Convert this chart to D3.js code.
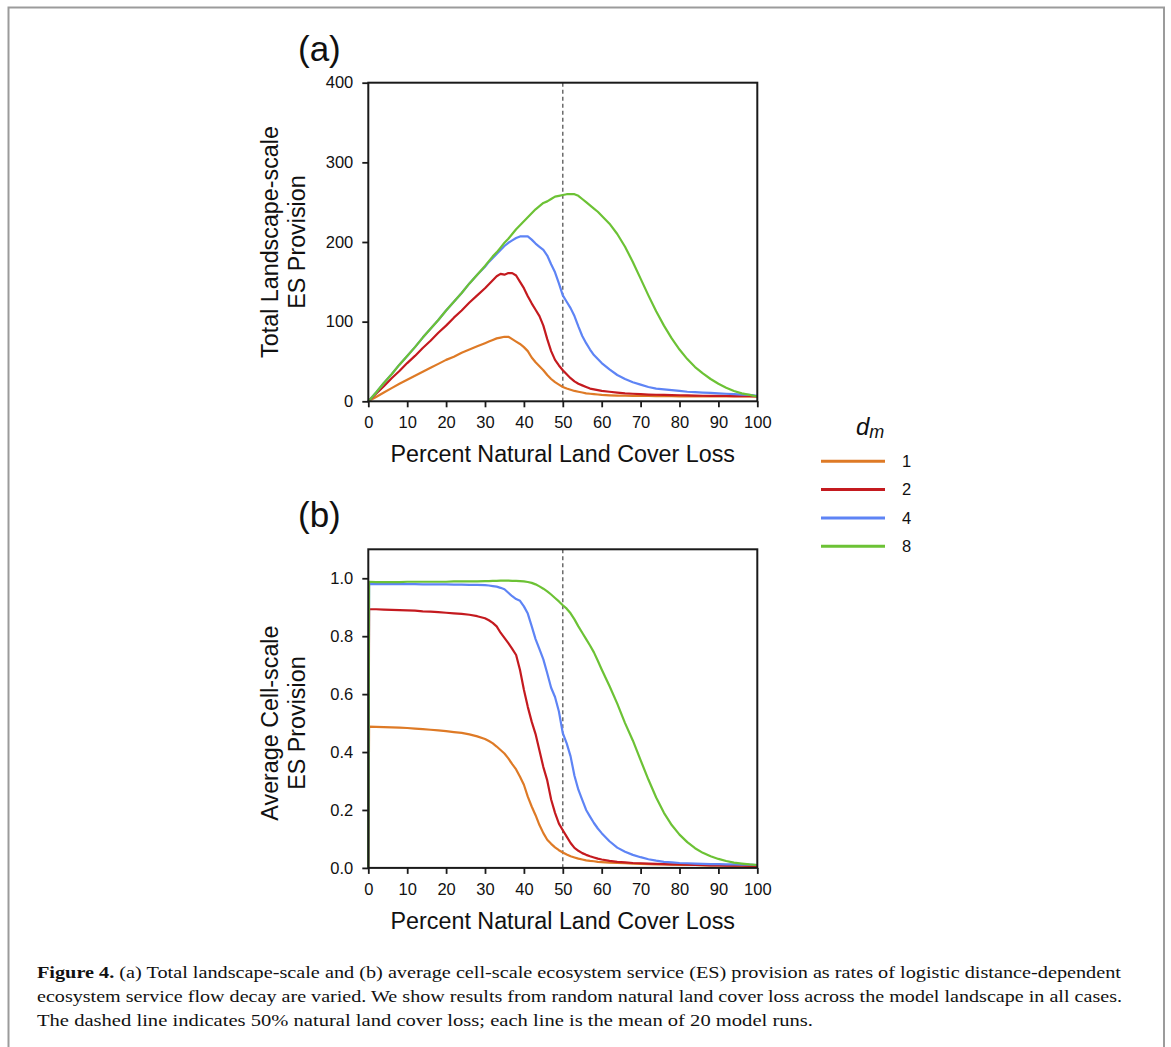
<!DOCTYPE html>
<html>
<head>
<meta charset="utf-8">
<script src="https://cdn.jsdelivr.net/npm/d3@7"></script>
<style>
  body { margin: 0; background: #fff; }
  svg { display: block; }
</style>
</head>
<body>
<div id="chart"></div>
<script>
// percent natural land cover loss (x grid shared by every series)
const LOSS = [0, 0.2,
  2, 4, 6, 8, 10, 12, 14, 16, 18, 20, 22, 24, 26, 28,
  30, 31, 32, 33, 34, 35, 36, 37, 38, 39, 40, 41, 42, 43, 44, 45, 46, 47, 48, 49, 50,
  51, 52, 53, 54, 55, 56, 57, 58, 59, 60,
  62, 64, 66, 68, 70, 72, 74, 76, 78, 80, 82, 84, 86, 88, 90, 92, 94, 96, 98, 100];

// (a) total landscape-scale ES provision
const TOTAL_DM1 = [0, 0.55,
  5.5, 11, 16.5, 22, 27, 32, 37, 42, 47, 52, 56, 61, 65, 69,
  73, 75, 77, 79, 80, 81, 81, 78, 75, 72, 68, 63, 55, 49, 44, 39, 33, 28, 24, 21, 18,
  16, 14.5, 13, 12, 11, 10, 9.5, 9, 8.5, 8,
  7.5, 7.2, 7, 6.9, 6.8, 6.7, 6.6, 6.5, 6.4, 6.3, 6.2, 6.1, 6, 6, 6, 6, 6, 6, 6, 6];
const TOTAL_DM2 = [0, 1,
  9.5, 19, 29, 38, 48, 57, 67, 76, 86, 95, 105, 114, 124, 133,
  142, 147, 152, 157, 160, 159, 161, 161, 158, 150, 142, 132, 123, 115, 107, 95, 78, 63, 52, 45, 39,
  34, 29, 25, 22, 20, 18, 16, 15, 14, 13,
  12, 11, 10, 9.5, 9, 8.5, 8.2, 8, 7.8, 7.6, 7.4, 7.2, 7, 6.9, 6.8, 6.7, 6.6, 6.5, 6.4, 6.3];
const TOTAL_DM4 = [0, 1.1,
  11, 23, 34, 46, 57, 68, 80, 91, 102, 114, 125, 136, 148, 159,
  169, 175, 180, 185, 190, 195, 199, 202, 205, 207, 207, 207, 203, 198, 194, 190, 183, 172, 162, 148, 133,
  125, 117, 107, 94, 82, 73, 65, 58, 53, 48,
  40, 33, 28, 24, 21, 18, 16, 15, 14, 13, 12, 11.5, 11, 10.5, 10, 9.5, 9, 8.5, 8, 7];
const TOTAL_DM8 = [0, 1.1,
  11, 23, 34, 46, 57, 68, 80, 91, 102, 114, 125, 136, 148, 159,
  170, 176, 182, 187, 193, 199, 204, 210, 216, 221, 226, 231, 236, 241, 245, 249, 251, 254, 257, 258, 259,
  260, 260, 260, 258, 254, 250, 246, 242, 238, 233,
  223, 210, 194, 175, 154, 133, 113, 95, 79, 65, 53, 43, 35, 28, 22, 17, 13, 10, 8, 6];

// (b) average cell-scale ES provision
const CELL_DM1 = [0, 0.488,
  0.487, 0.486, 0.485, 0.484, 0.483, 0.481, 0.479, 0.477, 0.475, 0.472, 0.469, 0.466, 0.461, 0.454,
  0.445, 0.438, 0.43, 0.419, 0.407, 0.395, 0.378, 0.358, 0.34, 0.315, 0.287, 0.246, 0.212, 0.182, 0.148, 0.12, 0.097, 0.083, 0.071, 0.061, 0.053,
  0.046, 0.04, 0.036, 0.032, 0.029, 0.026, 0.024, 0.023, 0.021, 0.02,
  0.018, 0.017, 0.016, 0.015, 0.014, 0.013, 0.012, 0.012, 0.011, 0.01, 0.01, 0.01, 0.009, 0.009, 0.009, 0.009, 0.008, 0.008, 0.008, 0.008];
const CELL_DM2 = [0, 0.893,
  0.893, 0.892, 0.891, 0.89, 0.889, 0.888, 0.886, 0.885, 0.883, 0.881, 0.879, 0.877, 0.874, 0.869,
  0.862, 0.855, 0.846, 0.834, 0.812, 0.794, 0.776, 0.756, 0.735, 0.683, 0.615, 0.556, 0.505, 0.462, 0.405, 0.348, 0.302, 0.236, 0.19, 0.153, 0.13,
  0.108, 0.086, 0.069, 0.059, 0.051, 0.045, 0.04, 0.036, 0.032, 0.029,
  0.024, 0.021, 0.019, 0.017, 0.016, 0.015, 0.014, 0.013, 0.012, 0.012, 0.011, 0.01, 0.01, 0.009, 0.009, 0.008, 0.008, 0.008, 0.007, 0.007];
const CELL_DM4 = [0, 0.98,
  0.98, 0.98, 0.98, 0.98, 0.98, 0.98, 0.979, 0.979, 0.979, 0.979, 0.978, 0.978, 0.977, 0.977,
  0.976, 0.975, 0.973, 0.971, 0.967, 0.962, 0.95, 0.938, 0.928, 0.922, 0.903, 0.878, 0.835, 0.79, 0.755, 0.72, 0.672, 0.622, 0.59, 0.54, 0.465,
  0.43, 0.385, 0.318, 0.27, 0.235, 0.2, 0.177, 0.155, 0.136, 0.12,
  0.092, 0.07, 0.056, 0.045, 0.037, 0.03, 0.025, 0.021, 0.019, 0.017, 0.016, 0.015, 0.014, 0.013, 0.013, 0.012, 0.012, 0.011, 0.011, 0.01];
const CELL_DM8 = [0, 0.988,
  0.987, 0.987, 0.987, 0.987, 0.988, 0.988, 0.988, 0.988, 0.988, 0.988, 0.989, 0.989, 0.989, 0.989,
  0.99, 0.99, 0.991, 0.991, 0.992, 0.992, 0.992, 0.991, 0.991, 0.99, 0.989, 0.987, 0.984, 0.979, 0.972, 0.964, 0.955, 0.944, 0.932, 0.92, 0.907,
  0.895, 0.879, 0.858, 0.834, 0.812, 0.79, 0.768, 0.744, 0.715, 0.685,
  0.628, 0.567, 0.5, 0.44, 0.372, 0.305, 0.243, 0.19, 0.148, 0.115, 0.089, 0.068, 0.052, 0.04, 0.031, 0.024, 0.018, 0.015, 0.012, 0.01];

const DM_LABELS = ['1', '2', '4', '8'];
const LOSS_TICKS = [0, 10, 20, 30, 40, 50, 60, 70, 80, 90, 100];
const TOTAL_TICKS = [0, 100, 200, 300, 400];
const CELL_TICKS = [0, 0.2, 0.4, 0.6, 0.8, 1.0];
const DASHED_AT = 50;

const WIDTH = 1171;
const HEIGHT = 1047;
const PLOT_LEFT = 368.3;
const PLOT_RIGHT = 757.3;
const PLOT_HEIGHT = 318.6;
const COLORS = ['#de7a26', '#c41a1f', '#5e84f5', '#6cc235'];
const SANS = 'Liberation Sans, Arial, Helvetica, sans-serif';

const svg = d3.select('#chart')
  .append('svg')
    .attr('width', WIDTH)
    .attr('height', HEIGHT)
    .style('font-family', SANS);

// grey frame around the whole figure
svg.append('rect')
  .attr('x', 8.5).attr('y', 7.5)
  .attr('width', 1155.5).attr('height', 1100)
  .attr('fill', 'none')
  .attr('stroke', '#9b9b9b')
  .attr('stroke-width', 2);

const x = d3.scaleLinear().domain([0, 100]).range([PLOT_LEFT, PLOT_RIGHT]);

function drawPanel (top, yMax, ticks, fmt, series, letter, titleLines) {
  const bottom = top + PLOT_HEIGHT;
  const y = d3.scaleLinear().domain([0, yMax]).range([bottom, top]);
  const g = svg.append('g');

  // panel letter
  g.append('text')
    .attr('x', 298).attr('y', top - 22)
    .style('font-size', '35px')
    .attr('fill', '#111')
    .text(letter);

  // x = 50% reference line
  g.append('line')
    .attr('x1', x(DASHED_AT)).attr('x2', x(DASHED_AT))
    .attr('y1', top).attr('y2', bottom)
    .attr('stroke', '#555')
    .attr('stroke-width', 1.3)
    .attr('stroke-dasharray', '4,3');

  const line = d3.line()
    .x((d, i) => x(LOSS[i]))
    .y(d => y(d));

  series.forEach((s, i) => {
    g.append('path')
      .datum(s)
      .attr('d', line)
      .attr('fill', 'none')
      .attr('stroke', COLORS[i])
      .attr('stroke-width', 2.2)
      .attr('stroke-linejoin', 'round');
  });

  // plot box
  g.append('rect')
    .attr('x', PLOT_LEFT).attr('y', top)
    .attr('width', PLOT_RIGHT - PLOT_LEFT).attr('height', PLOT_HEIGHT)
    .attr('fill', 'none')
    .attr('stroke', '#1a1a1a')
    .attr('stroke-width', 2);

  const yAxis = g.append('g')
    .attr('transform', `translate(${PLOT_LEFT}, 0)`)
    .call(d3.axisLeft(y).tickValues(ticks).tickFormat(fmt).tickSize(6).tickPadding(9));
  const xAxis = g.append('g')
    .attr('transform', `translate(0, ${bottom})`)
    .call(d3.axisBottom(x).tickValues(LOSS_TICKS).tickSize(6).tickPadding(9));
  [yAxis, xAxis].forEach(a => {
    a.select('.domain').remove();
    a.selectAll('.tick line').attr('stroke', '#1a1a1a').attr('stroke-width', 1.8);
    a.selectAll('.tick text')
      .attr('fill', '#111')
      .style('font-family', SANS)
      .style('font-size', '16.5px');
  });

  // axis titles
  g.append('text')
    .attr('x', (PLOT_LEFT + PLOT_RIGHT) / 2)
    .attr('y', bottom + 61)
    .attr('text-anchor', 'middle')
    .style('font-size', '23.3px')
    .attr('fill', '#111')
    .text('Percent Natural Land Cover Loss');

  const midY = y((ticks[0] + ticks[ticks.length - 1]) / 2);
  titleLines.forEach((t, i) => {
    g.append('text')
      .attr('transform', `translate(${278 + i * 27}, ${midY}) rotate(-90)`)
      .attr('text-anchor', 'middle')
      .style('font-size', '23.3px')
      .attr('fill', '#111')
      .text(t);
  });
}

drawPanel(82.7, 400, TOTAL_TICKS, d3.format('d'),
  [TOTAL_DM1, TOTAL_DM2, TOTAL_DM4, TOTAL_DM8], '(a)',
  ['Total Landscape-scale', 'ES Provision']);
drawPanel(549.3, 1.1, CELL_TICKS, d3.format('.1f'),
  [CELL_DM1, CELL_DM2, CELL_DM4, CELL_DM8], '(b)',
  ['Average Cell-scale', 'ES Provision']);

// legend
const legend = svg.append('g');
const dm = legend.append('text')
  .attr('x', 856).attr('y', 435)
  .style('font-style', 'italic')
  .style('font-size', '24px')
  .attr('fill', '#111');
dm.append('tspan').text('d');
dm.append('tspan').attr('dy', 3).style('font-size', '18px').text('m');

DM_LABELS.forEach((lab, i) => {
  const ly = 461.3 + i * 28.3;
  legend.append('line')
    .attr('x1', 821).attr('x2', 885)
    .attr('y1', ly).attr('y2', ly)
    .attr('stroke', COLORS[i])
    .attr('stroke-width', 3);
  legend.append('text')
    .attr('x', 902).attr('y', ly)
    .attr('dy', '0.35em')
    .style('font-size', '16.5px')
    .attr('fill', '#111')
    .text(lab);
});

// caption
const CAPTION = [
  { bold: 'Figure 4.', rest: ' (a) Total landscape-scale and (b) average cell-scale ecosystem service (ES) provision as rates of logistic distance-dependent', len: 1084 },
  { bold: '', rest: 'ecosystem service flow decay are varied. We show results from random natural land cover loss across the model landscape in all cases.', len: 1085 },
  { bold: '', rest: 'The dashed line indicates 50% natural land cover loss; each line is the mean of 20 model runs.', len: 776 }
];
CAPTION.forEach((c, i) => {
  const t = svg.append('text')
    .attr('x', 37).attr('y', 978 + i * 24)
    .attr('textLength', c.len)
    .attr('lengthAdjust', 'spacingAndGlyphs')
    .style('font-family', 'Liberation Serif, Times New Roman, serif')
    .style('font-size', '17.5px')
    .attr('fill', '#111');
  if (c.bold) t.append('tspan').style('font-weight', 'bold').text(c.bold);
  t.append('tspan').text(c.rest);
});
</script>
</body>
</html>
